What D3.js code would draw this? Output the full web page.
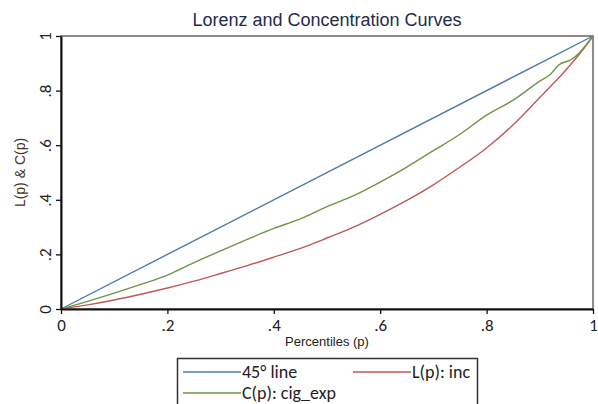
<!DOCTYPE html>
<html>
<head>
<meta charset="utf-8">
<script src="https://cdn.jsdelivr.net/npm/d3@7"></script>
<style>
  body { margin: 0; background: #fff; }
  svg { display: block; font-family: Arial, "Liberation Sans", sans-serif; }
</style>
</head>
<body>
<div class="chart"></div>
<script>
// data
const pctl = [0, .05, .1, .15, .2, .25, .3, .35, .4, .45, .5, .55, .6, .65, .7, .75, .8, .85, .9, .92, .935, .96, .975, 1];
const lorenzInc = [0, .015, .033, .054, .077, .102, .13, .159, .19, .222, .26, .3, .347, .398, .455, .52, .59, .675, .775, .815, .845, .9, .935, 1];
const concCig = [0, .028, .058, .09, .124, .17, .213, .255, .295, .33, .375, .415, .465, .52, .58, .64, .71, .765, .835, .86, .893, .915, .94, 1];
const xTicks = [0, .2, .4, .6, .8, 1];
const yTicks = [0, .2, .4, .6, .8, 1];
const tickFmt = (d) => (d === 0 || d === 1 ? String(d) : String(d).replace(/^0/, ""));

const width = 598;
const height = 404;
const margin = { left: 61, right: 5, top: 36, bottom: 95 };
const calibri = "Calibri, Carlito, 'Open Sans', sans-serif";

const svg = d3.select(".chart")
   .append("svg")
   .attr("width", width)
   .attr("height", height);

const x = d3.scaleLinear().domain([0, 1]).range([margin.left, width - margin.right]);
const y = d3.scaleLinear().domain([0, 1]).range([height - margin.bottom, margin.top]);

// title
svg.append("text")
   .attr("x", 327)
   .attr("y", 26)
   .attr("text-anchor", "middle")
   .attr("font-size", 18)
   .attr("fill", "#1e2b4d")
   .text("Lorenz and Concentration Curves");

// plot frame (top/right)
svg.append("rect")
   .attr("x", x(0))
   .attr("y", y(1))
   .attr("width", x(1) - x(0))
   .attr("height", y(0) - y(1))
   .attr("fill", "none")
   .attr("stroke", "#666")
   .attr("stroke-width", 1.5);

// curves
const line = d3.line().x((d) => x(d[0])).y((d) => y(d[1])).curve(d3.curveMonotoneX);
const series = [
   { name: "45° line", values: [[0, 0], [1, 1]], color: "#4f7aa6" },
   { name: "L(p): inc", values: pctl.map((p, i) => [p, lorenzInc[i]]), color: "#c0585a" },
   { name: "C(p): cig_exp", values: pctl.map((p, i) => [p, concCig[i]]), color: "#6f9445" }
];

svg.selectAll(".curve")
   .data(series)
   .enter()
   .append("path")
   .attr("class", "curve")
   .attr("d", (d) => line(d.values))
   .attr("fill", "none")
   .attr("stroke", (d) => d.color)
   .attr("stroke-width", 1.4);

// axes
const xAxis = d3.axisBottom(x).tickValues(xTicks).tickFormat(tickFmt).tickSize(5).tickSizeOuter(0);
const gx = svg.append("g")
   .attr("transform", `translate(0, ${y(0)})`)
   .call(xAxis);
gx.select(".domain").attr("stroke", "#111").attr("stroke-width", 2);
gx.selectAll(".tick line").attr("stroke", "#111").attr("stroke-width", 1.3);
gx.selectAll(".tick text").attr("font-size", 17).attr("fill", "#222").attr("dy", "0.8em")
   .attr("font-family", calibri);

const yAxis = d3.axisLeft(y).tickValues(yTicks).tickFormat(tickFmt).tickSize(5).tickSizeOuter(0);
const gy = svg.append("g")
   .attr("transform", `translate(${x(0)}, 0)`)
   .call(yAxis);
gy.select(".domain").attr("stroke", "#111").attr("stroke-width", 2);
gy.selectAll(".tick line").attr("stroke", "#111").attr("stroke-width", 1.3);
gy.selectAll(".tick text")
   .attr("font-size", 17)
   .attr("fill", "#222")
   .attr("font-family", calibri)
   .attr("x", null)
   .attr("dy", null)
   .attr("text-anchor", "middle")
   .attr("transform", "translate(-10, 0) rotate(-90)");

// axis titles
svg.append("text")
   .attr("x", 327)
   .attr("y", 346)
   .attr("text-anchor", "middle")
   .attr("font-size", 13)
   .attr("fill", "#222")
   .text("Percentiles (p)");

svg.append("text")
   .attr("transform", `translate(25, ${(y(0) + y(1)) / 2}) rotate(-90)`)
   .attr("text-anchor", "middle")
   .attr("font-size", 14)
   .attr("fill", "#4a3516")
   .text("L(p) & C(p)");

// legend
const legend = svg.append("g");
legend.append("rect")
   .attr("x", 177.5)
   .attr("y", 358.5)
   .attr("width", 300)
   .attr("height", 60)
   .attr("fill", "#fff")
   .attr("stroke", "#333")
   .attr("stroke-width", 1.5);

const legendItems = [
   { s: series[0], lx: 183, ly: 372 },
   { s: series[1], lx: 353, ly: 372 },
   { s: series[2], lx: 183, ly: 393 }
];
legendItems.forEach((it) => {
   legend.append("line")
      .attr("x1", it.lx).attr("x2", it.lx + 58)
      .attr("y1", it.ly).attr("y2", it.ly)
      .attr("stroke", it.s.color)
      .attr("stroke-width", 1.4);
   legend.append("text")
      .attr("x", it.lx + 59)
      .attr("y", it.ly + 6)
      .attr("font-size", 18)
      .attr("fill", "#222")
      .attr("font-family", calibri)
      .text(it.s.name);
});
</script>
</body>
</html>
